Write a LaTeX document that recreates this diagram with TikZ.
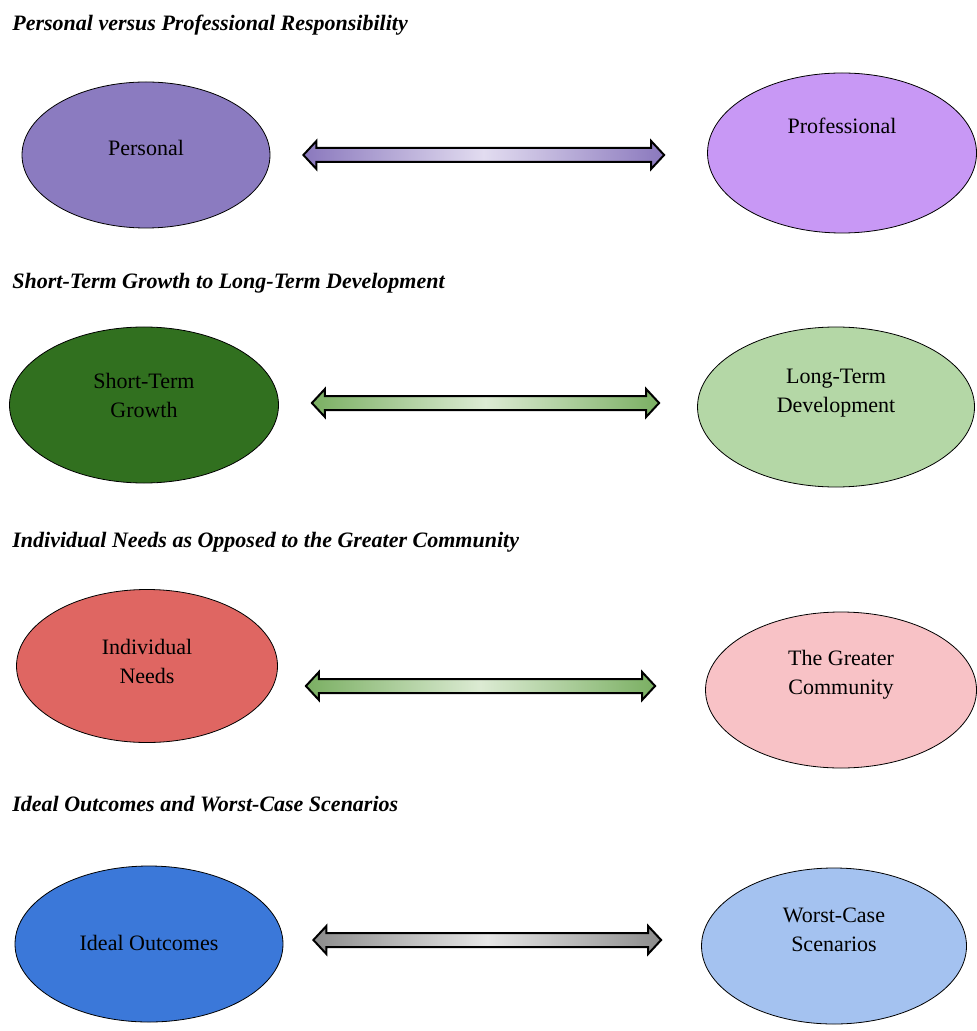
\documentclass[tikz,border=0pt]{standalone}
\usepackage{fontspec}
\setmainfont{Liberation Serif}
\newfontfamily\lblfont{Liberation Serif}
\usetikzlibrary{calc,shapes.geometric}

\definecolor{perscol}{HTML}{8B7BC0}
\definecolor{profcol}{HTML}{C898F5}
\definecolor{shortcol}{HTML}{31701F}
\definecolor{longcol}{HTML}{B4D7A6}
\definecolor{indcol}{HTML}{DF6662}
\definecolor{commcol}{HTML}{F8C2C6}
\definecolor{idealcol}{HTML}{3B78D9}
\definecolor{worstcol}{HTML}{A4C2F0}
\definecolor{purpend}{HTML}{8A78BD}
\definecolor{purpmid}{HTML}{E2DCF0}
\definecolor{greenend}{HTML}{7AAF62}
\definecolor{greenmid}{HTML}{DCEBD3}
\definecolor{grayend}{HTML}{8C8C8C}
\definecolor{graymid}{HTML}{E6E6E6}

\tikzset{
  head/.style={anchor=west, inner sep=0pt, font=\lblfont\bfseries\itshape\fontsize{11}{13}\selectfont},
  oval/.style={ellipse, draw=black, thin, inner sep=0pt},
  txt/.style={align=center, inner sep=0pt, font=\lblfont\fontsize{11}{14.5}\selectfont},
  arrowline/.style={draw=black, line width=1pt, line join=miter}
}

% double headed band between two points
\newcommand{\dblarrow}[4]{%
  \draw[arrowline, left color=#3, right color=#3, middle color=#4]
    (#1) -- ++(13,-14) -- ++(0,7) -- ($(#2)+(-13,-7)$) -- ++(0,-7) -- (#2)
    -- ++(-13,14) -- ++(0,-7) -- ($(#1)+(13,7)$) -- ++(0,7) -- cycle;}

\begin{document}
\begin{tikzpicture}[x=0.5pt,y=-0.5pt]
\useasboundingbox (0,0) rectangle (977,1031);

% headings
\node[head] (h1) at (12,25)  {Personal versus Professional Responsibility};
\node[head] (h2) at (12,283) {Short-Term Growth to Long-Term Development};
\node[head] (h3) at (12,542) {Individual Needs as Opposed to the Greater Community};
\node[head] (h4) at (12,804) {Ideal Outcomes and Worst-Case Scenarios};

% row 1
\node[oval, fill=perscol, minimum width=124pt, minimum height=73pt,
  label={[txt,yshift=3.5pt]center:Personal}] (pers) at (146,155) {};
\node[oval, fill=profcol, minimum width=134.5pt, minimum height=80pt,
  label={[txt,yshift=13.5pt]center:Professional}] (prof) at (842,153) {};

% row 2
\node[oval, fill=shortcol, minimum width=134.5pt, minimum height=78pt,
  label={[txt,yshift=5pt]center:Short-Term\\Growth}] (short) at (144,405) {};
\node[oval, fill=longcol, minimum width=138.5pt, minimum height=80pt,
  label={[txt,yshift=7pt]center:Long-Term\\Development}] (long) at (836,407) {};

% row 3
\node[oval, fill=indcol, minimum width=130.5pt, minimum height=76.5pt,
  label={[txt,yshift=2.5pt]center:Individual\\Needs}] (indiv) at (147,666) {};
\node[oval, fill=commcol, minimum width=135.5pt, minimum height=78pt,
  label={[txt,yshift=7.5pt]center:The Greater\\Community}] (comm) at (841,690) {};

% row 4
\node[oval, fill=idealcol, minimum width=134pt, minimum height=78pt,
  label={[txt,yshift=0.5pt]center:Ideal Outcomes}] (ideal) at (149,944) {};
\node[oval, fill=worstcol, minimum width=132.5pt, minimum height=78pt,
  label={[txt,yshift=8pt]center:Worst-Case\\Scenarios}] (worst) at (834,946) {};

% arrows
\coordinate (r1) at ($(prof.west)+(-43,2)$);
\coordinate (l1) at ($(pers.east|-r1)+(33,0)$);
\coordinate (r2) at ($(long.west)+(-38,-4)$);
\coordinate (l2) at ($(short.east|-r2)+(33,0)$);
\coordinate (r3) at ($(comm.west)+(-50,-4)$);
\coordinate (l3) at ($(indiv.east|-r3)+(28,0)$);
\coordinate (r4) at ($(worst.west)+(-40,-6)$);
\coordinate (l4) at ($(ideal.east|-r4)+(30,0)$);

\dblarrow{l1}{r1}{purpend}{purpmid}
\dblarrow{l2}{r2}{greenend}{greenmid}
\dblarrow{l3}{r3}{greenend}{greenmid}
\dblarrow{l4}{r4}{grayend}{graymid}
\end{tikzpicture}
\end{document}
